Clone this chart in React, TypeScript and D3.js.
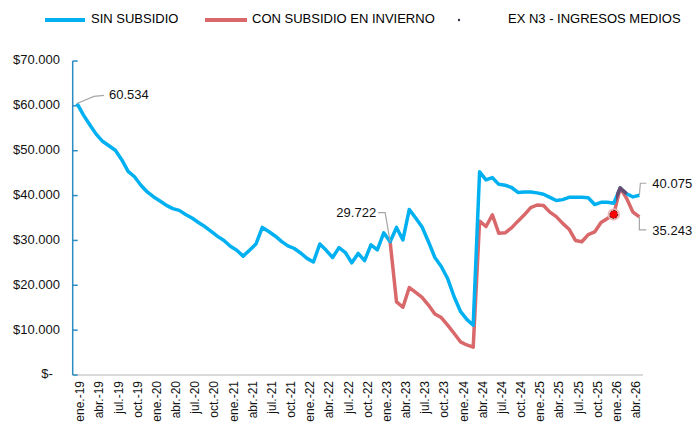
import React from 'react'
import * as d3 from 'd3'

const W = 695
const H = 426

// quarterly tick labels: ene./abr./jul./oct. for each year
const monthAbbr = ['ene.', 'abr.', 'jul.', 'oct.']
const yearLabels = ['19', '20', '21', '22', '23', '24', '25', '26']

// monthly values, ene.-19 .. may.-26
const sinSubsidio = [
  60534, 58000, 55800, 53700, 52100, 51100, 50100, 48000, 45400, 44200, 42300, 40800,
  39700, 38800, 37800, 37100, 36700, 35800, 35000, 34000, 33100, 32000, 30900, 30000,
  28700, 27800, 26500, 27800, 29200, 32900, 32000, 31000, 29800, 28800, 28200, 27200,
  26000, 25200, 29200, 27800, 26200, 28400, 27300, 25000, 27100, 25500, 29000, 27900,
  31700, 29722, 32900, 30100, 36900, 35000, 33000, 29700, 26200, 24200, 21500, 17500,
  14200, 12400, 11100, 45300, 43500, 44000, 42500, 42300, 41800, 40700, 40800, 40800,
  40600, 40300, 39600, 38900, 39100, 39600, 39600, 39600, 39500, 38000, 38500, 38500,
  38300, 41700, 40400, 39700, 40075,
]

const conSubsidio: (number | null)[] = [
  ...Array(49).fill(null),
  29722, 16300, 15100, 19500, 18400, 17300, 15600, 13600, 12800, 11100, 9300,
  7400, 6700, 6200, 34300, 33100, 35700, 31600, 31700, 32800, 34300, 35700, 37300,
  37900, 37800, 36300, 35300, 33800, 32500, 30000, 29700, 31300, 31900, 34000, 34900,
  35800, 41700, 39400, 36300, 35243,
]

const exN3Idx = [84, 85, 86]
const exN3 = [38300, 41700, 40400]
const markerIdx = 84

const yTicks = [0, 10000, 20000, 30000, 40000, 50000, 60000, 70000]

const BLUE = '#00b0f0'
const RED = '#d9686b'
const PURPLE = '#6a4a6e'
const AXIS_BLUE = '#2b8cc4'
const FONT = '"Liberation Sans", Arial, sans-serif'

const locale = d3.formatLocale({ decimal: ',', thousands: '.', grouping: [3], currency: ['$', ''] })
const fmtNum = locale.format(',.0f')
const fmtMoney = (v: number) => (v === 0 ? '$-\u00a0\u00a0' : locale.format('$,.0f')(v))

export default function App() {
  const n = sinSubsidio.length
  const x = d3.scaleLinear().domain([-0.67, 88.57]).range([72.7, 643])
  const y = d3.scaleLinear().domain([0, 70000]).range([375, 61])

  const line = d3
    .line<number | null>()
    .defined((d) => d != null)
    .x((_, i) => x(i))
    .y((d) => y(d as number))

  const exLine = d3
    .line<number>()
    .x((_, i) => x(exN3Idx[i]))
    .y((d) => y(d))

  const xTicks = d3.range(0, n - 1, 3)

  const p = (i: number, arr: (number | null)[]) => [x(i), y(arr[i] as number)]
  const [f0x, f0y] = p(0, sinSubsidio)
  const [mx, my] = p(49, sinSubsidio)
  const [ebx, eby] = p(n - 1, sinSubsidio)
  const [erx, ery] = p(n - 1, conSubsidio)

  return (
    <svg width={W} height={H} style={{ position: 'absolute', left: 0, top: 0, background: '#fff' }} fontFamily={FONT}>
      <defs>
        <clipPath id="exclip">
          <rect x={x(84.35)} y={0} width={x(86) - x(84.35) + 2} height={H} />
        </clipPath>
      </defs>

      {/* legend */}
      <g fontSize={13} fill="#000">
        <line x1={45} x2={85} y1={20} y2={20} stroke={BLUE} strokeWidth={4} />
        <text x={91} y={20} dominantBaseline="middle">SIN SUBSIDIO</text>
        <line x1={205} x2={247} y1={20} y2={20} stroke={RED} strokeWidth={4} />
        <text x={252} y={20} dominantBaseline="middle">CON SUBSIDIO EN INVIERNO</text>
        <circle cx={459} cy={20} r={1.2} fill="#334" />
        <text x={508} y={20} dominantBaseline="middle">EX N3 - INGRESOS MEDIOS</text>
      </g>

      {/* x axis baseline */}
      <line x1={x.range()[0]} x2={x.range()[1]} y1={y(0)} y2={y(0)} stroke="#d9d9d9" strokeWidth={2} />

      {/* y axis */}
      <line x1={x.range()[0]} x2={x.range()[0]} y1={y(70000)} y2={y(0)} stroke={AXIS_BLUE} strokeWidth={1.5} />
      {yTicks.map((t) => (
        <g key={t}>
          <line x1={x.range()[0]} x2={x.range()[0] + 5} y1={y(t)} y2={y(t)} stroke={AXIS_BLUE} strokeWidth={1.5} />
          <text x={60} y={y(t)} textAnchor="end" dominantBaseline="middle" fontSize={13} fill="#111">
            {fmtMoney(t)}
          </text>
        </g>
      ))}

      {/* x tick labels */}
      {xTicks.map((i) => {
        const lx = x(i) + 3
        const ly = 381
        return (
          <text
            key={i}
            x={lx}
            y={ly}
            transform={`rotate(-90 ${lx} ${ly})`}
            textAnchor="end"
            dy="0.35em"
            fontSize={12}
            fill="#111"
          >
            {`${monthAbbr[(i / 3) % 4]}-${yearLabels[Math.floor(i / 12)]}`}
          </text>
        )
      })}

      {/* series */}
      <path d={line(conSubsidio) || ''} fill="none" stroke={RED} strokeWidth={3.5} strokeLinejoin="round" />
      <path d={line(sinSubsidio) || ''} fill="none" stroke={BLUE} strokeWidth={3.5} strokeLinejoin="round" />
      <path d={exLine(exN3) || ''} fill="none" stroke={PURPLE} strokeWidth={3.5} strokeLinejoin="round" clipPath="url(#exclip)" />

      {/* marker */}
      <circle cx={x(markerIdx)} cy={y(conSubsidio[markerIdx] as number)} r={5.5} fill="none" stroke="#efb4b4" strokeWidth={1.5} />
      <circle
        cx={x(markerIdx)}
        cy={y(conSubsidio[markerIdx] as number)}
        r={4}
        fill="#ff0000"
        stroke="#222"
        strokeWidth={1}
        strokeDasharray="1.5,1.5"
      />

      {/* data labels */}
      <g fontSize={13} fill="#111">
        <polyline
          points={`${f0x},${f0y} ${f0x + 17},${f0y - 7} ${f0x + 27},${f0y - 8}`}
          fill="none"
          stroke="#a6a6a6"
          strokeWidth={1.2}
        />
        <text x={f0x + 32} y={f0y - 8} dominantBaseline="middle">{fmtNum(sinSubsidio[0])}</text>

        <polyline
          points={`${mx},${my} ${mx - 5},${my - 29} ${mx - 12},${my - 29}`}
          fill="none"
          stroke="#a6a6a6"
          strokeWidth={1.2}
        />
        <text x={mx - 14} y={my - 28} textAnchor="end" dominantBaseline="middle">{fmtNum(sinSubsidio[49])}</text>

        <polyline
          points={`${ebx},${eby} ${ebx + 1},${eby - 12} ${ebx + 7},${eby - 12}`}
          fill="none"
          stroke="#a6a6a6"
          strokeWidth={1.2}
        />
        <text x={ebx + 13} y={eby - 11} dominantBaseline="middle">{fmtNum(sinSubsidio[n - 1])}</text>

        <polyline
          points={`${erx},${ery} ${erx},${ery + 13} ${erx + 7},${ery + 13}`}
          fill="none"
          stroke="#a6a6a6"
          strokeWidth={1.2}
        />
        <text x={erx + 13} y={ery + 15} dominantBaseline="middle">{fmtNum(conSubsidio[n - 1] as number)}</text>
      </g>
    </svg>
  )
}
